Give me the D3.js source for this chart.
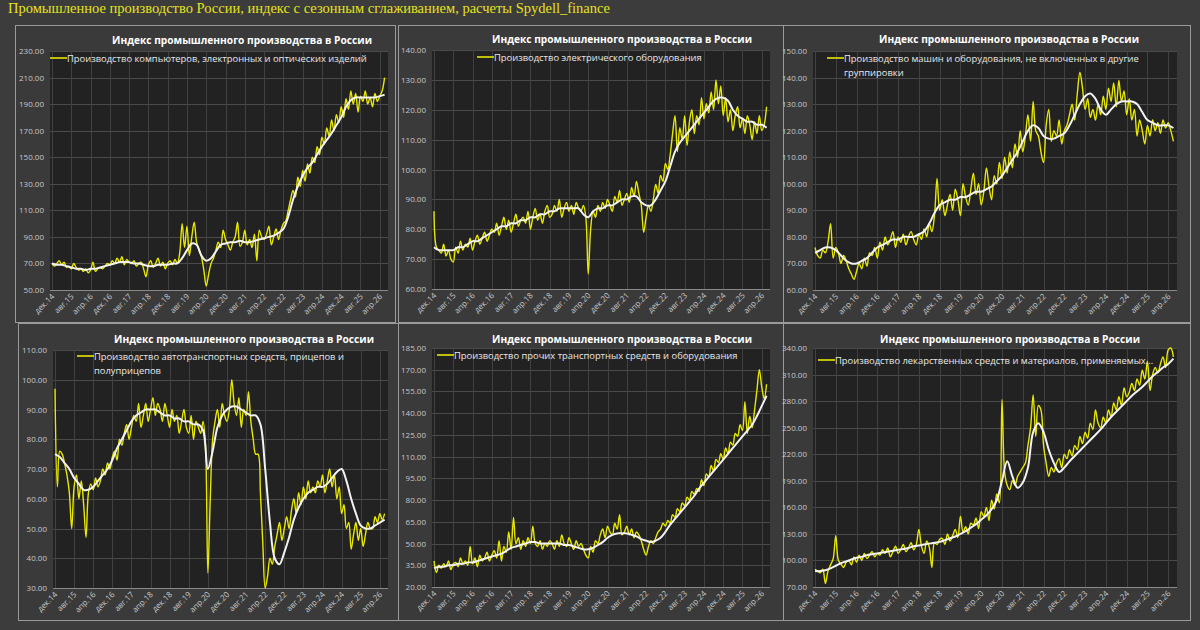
<!DOCTYPE html>
<html>
<head>
<meta charset="utf-8">
<script src="https://cdn.jsdelivr.net/npm/d3@7/dist/d3.min.js"></script>
<style>
  body { margin: 0; background: #3c3c3c; }
  text { font-family: "Open Sans", "DejaVu Sans", sans-serif; }
</style>
</head>
<body>
<svg width="1200" height="630"></svg>
<script>
'use strict';

// month index 0 = дек.14, one label every 8 months
const xLabels = ["дек.14", "авг.15", "апр.16", "дек.16", "авг.17", "апр.18", "дек.18", "авг.19", "апр.20",
    "дек.20", "авг.21", "апр.22", "дек.22", "авг.23", "апр.24", "дек.24", "авг.25", "апр.26"];

// Computers, electronics & optics (monthly)
const compYellow = [70,
    68, 70, 72, 69, 71, 67, 68, 66, 70, 67, 65, 66,
    64, 66, 63, 65, 71, 64, 66, 67, 66, 68, 70, 69,
    72, 70, 74, 71, 75, 69, 73, 71, 70, 72, 68, 70,
    71, 66, 60, 69, 72, 67, 70, 74, 68, 71, 66, 70,
    72, 69, 73, 70, 78, 100, 82, 98, 76, 90, 101, 86,
    80, 75, 65, 53, 62, 70, 74, 80, 86, 82, 95, 88,
    84, 80, 86, 90, 101, 83, 86, 95, 84, 88, 82, 92,
    72, 95, 90, 88, 92, 98, 84, 90, 96, 88, 95, 100,
    102, 110, 118, 125, 120, 135, 128, 140, 132, 145, 138, 150,
    146, 158, 152, 165, 160, 172, 166, 178, 170, 182, 176, 188,
    180, 194, 186, 200, 190, 198, 184, 196, 192, 200, 190, 195,
    188, 198, 192, 196, 200, 210];
// smoothed, every second month
const compWhite = [70, 69, 69, 68, 67, 66, 66, 65, 66, 66, 67, 68,
    69, 70, 71, 71, 71, 70, 70, 69, 68, 68, 69, 69,
    69, 70, 70, 74, 80, 85, 84, 76, 72, 74, 79, 84,
    85, 86, 86, 87, 86, 86, 87, 88, 89, 90, 91, 93,
    96, 105, 118, 128, 136, 142, 146, 152, 158, 163, 168, 174,
    180, 188, 193, 195, 195, 195, 195, 195, 196, 197];
const compTicks = [50, 70, 90, 110, 130, 150, 170, 190, 210, 230];

// Electrical equipment
const elecYellow = [86,
    74, 73, 72, 75, 71, 73, 70, 69, 74, 72, 76, 73,
    75, 74, 77, 73, 76, 78, 75, 77, 79, 76, 78, 80,
    79, 82, 78, 81, 84, 80, 83, 79, 82, 85, 81, 83,
    84, 82, 86, 80, 84, 87, 83, 85, 82, 86, 88, 84,
    85, 88, 86, 90, 84, 87, 89, 86, 88, 85, 89, 87,
    86, 88, 84, 65, 80, 86, 84, 88, 86, 89, 87, 90,
    88, 86, 91, 89, 93, 88, 90, 92, 89, 94, 91, 96,
    92, 88, 79, 84, 88, 86, 90, 95, 92, 98, 96, 102,
    100, 105, 112, 118, 106, 114, 110, 118, 108, 116, 120, 112,
    118, 115, 124, 117, 122, 119, 126, 120, 130, 122, 128, 118,
    124, 116, 120, 113, 118, 121, 114, 117, 112, 118, 115, 110,
    116, 112, 118, 113, 115, 121];
const elecWhite = [74, 73, 73, 73, 73, 74, 74, 75, 76, 76, 77, 78,
    79, 80, 81, 81, 82, 82, 83, 83, 84, 84, 85, 85,
    86, 86, 87, 87, 87, 87, 87, 85, 84, 86, 87, 87,
    88, 88, 89, 90, 90, 91, 91, 89, 88, 88, 90, 93,
    96, 101, 106, 109, 111, 113, 115, 117, 119, 121, 123, 124,
    124, 123, 120, 118, 117, 116, 116, 115, 115, 114];
const elecTicks = [60, 70, 80, 90, 100, 110, 120, 130, 140];

// Machinery & equipment n.e.c.
const machYellow = [76,
    73, 72, 75, 74, 78, 85, 72, 76, 74, 70, 73, 71,
    68, 66, 64, 67, 70, 68, 72, 69, 74, 73, 76, 72,
    78, 75, 80, 77, 79, 82, 76, 80, 78, 81, 77, 80,
    82, 79, 77, 81, 79, 83, 80, 85, 82, 88, 102, 90,
    94, 88, 92, 96, 90, 98, 94, 88, 100, 95, 92, 98,
    104, 96, 100, 92, 97, 106, 99, 94, 103, 100, 108, 102,
    110, 104, 112, 106, 115, 110, 120, 112, 118, 126, 116, 131,
    120, 118, 112, 108, 122, 128, 116, 120, 118, 124, 115, 120,
    122, 126, 130, 124, 134, 142, 136, 128, 132, 125, 128, 124,
    130, 126, 133, 128, 136, 131, 138, 129, 139, 131, 135, 126,
    132, 124, 128, 118, 124, 120, 115, 122, 118, 124, 120, 123,
    119, 124, 121, 123, 120, 116];
const machWhite = [74, 75, 76, 76, 75, 73, 71, 70, 70, 71, 72, 74,
    76, 77, 78, 79, 79, 80, 80, 80, 81, 82, 85, 89,
    92, 93, 94, 94, 95, 95, 96, 97, 97, 98, 99, 101,
    103, 106, 109, 112, 116, 120, 122, 121, 118, 117, 117, 118,
    119, 122, 126, 130, 133, 134, 132, 128, 126, 128, 130, 131,
    131, 131, 130, 127, 124, 123, 122, 122, 122, 121];
const machTicks = [60, 70, 80, 90, 100, 110, 120, 130, 140, 150];

// Motor vehicles, trailers & semi-trailers
const autoYellow = [97,
    64, 76, 75, 72, 68, 62, 50, 64, 68, 60, 66, 58,
    47, 62, 65, 63, 67, 64, 66, 70, 68, 72, 70, 74,
    76, 73, 80, 78, 82, 85, 80, 84, 88, 86, 92, 84,
    88, 92, 86, 90, 94, 88, 92, 90, 86, 92, 88, 84,
    90, 86, 88, 82, 86, 90, 84, 82, 88, 80, 86, 84,
    82, 86, 78, 35, 60, 80, 86, 90, 84, 92, 88, 86,
    90, 100, 92, 88, 94, 84, 90, 88, 96, 86, 80, 75,
    75, 62, 45, 30, 34, 40, 38, 44, 48, 52, 46, 50,
    54, 50, 56, 60, 55, 62, 58, 64, 60, 66, 62, 64,
    62, 66, 64, 68, 62, 66, 70, 64, 68, 60, 64, 55,
    58, 50, 52, 43, 48, 52, 46, 50, 44, 48, 52, 50,
    50, 54, 52, 55, 53, 55];
const autoWhite = [75, 74, 72, 70, 67, 65, 63, 63, 64, 66, 68, 70,
    73, 77, 80, 83, 86, 88, 89, 90, 90, 90, 89, 88,
    88, 87, 87, 86, 86, 85, 85, 83, 70, 76, 84, 88,
    90, 91, 91, 90, 89, 88, 88, 85, 70, 52, 40, 38,
    42, 47, 53, 57, 60, 62, 63, 64, 64, 65, 67, 69,
    70, 66, 60, 55, 51, 50, 50, 51, 52, 53];
const autoTicks = [30, 40, 50, 60, 70, 80, 90, 100, 110];

// Other transport equipment
const transYellow = [38,
    30, 35, 33, 36, 34, 38, 32, 36, 37, 34, 40, 36,
    38, 35, 48, 36, 40, 34, 42, 38, 40, 44, 38, 42,
    45, 40, 52, 38, 48, 44, 58, 46, 68, 50, 54, 46,
    52, 48, 54, 50, 62, 50, 48, 52, 46, 50, 48, 52,
    50, 46, 52, 48, 56, 50, 48, 54, 50, 46, 52, 48,
    50, 46, 42, 40, 48, 44, 52, 50, 56, 60, 54, 62,
    58, 56, 64, 60, 70, 56, 58, 62, 56, 60, 54, 58,
    56, 52, 46, 42, 48, 52, 50, 54, 58, 60, 64, 62,
    66, 64, 70, 68, 74, 72, 78, 76, 82, 80, 86, 84,
    88, 86, 94, 90, 98, 96, 104, 100, 108, 106, 112, 108,
    116, 112, 120, 118, 126, 124, 132, 128, 148, 126, 138, 130,
    142, 156, 170, 158, 150, 160];
const transWhite = [33, 34, 34, 35, 35, 36, 36, 37, 37, 38, 39, 40,
    41, 42, 43, 45, 47, 48, 49, 50, 51, 51, 50, 50,
    50, 50, 50, 49, 49, 48, 47, 46, 46, 47, 49, 51,
    54, 56, 57, 57, 57, 56, 55, 53, 52, 51, 52, 54,
    58, 63, 67, 71, 75, 79, 83, 88, 92, 96, 100, 104,
    108, 112, 116, 120, 124, 128, 132, 138, 145, 152];
const transTicks = [20, 35, 50, 65, 80, 95, 110, 125, 140, 155, 170, 185];

// Pharmaceuticals
const pharmaYellow = [90,
    88, 86, 90, 74, 88, 95, 102, 128, 100, 96, 92, 98,
    100, 95, 104, 98, 106, 100, 108, 102, 106, 110, 104, 108,
    106, 112, 108, 114, 104, 110, 116, 108, 112, 118, 110, 114,
    120, 112, 118, 135, 116, 108, 122, 115, 92, 120, 118, 124,
    125, 118, 130, 122, 128, 135, 126, 150, 132, 138, 130, 142,
    140, 148, 136, 155, 150, 160, 145, 168, 158, 175, 165, 282,
    200, 185, 180, 190, 185, 195, 200, 205, 210, 230, 250, 287,
    240, 275, 270, 230, 210, 195, 205, 200, 210, 215, 205, 220,
    215, 225, 218, 230, 225, 240, 232, 245, 238, 255, 248, 270,
    255, 250, 262, 255, 270, 262, 278, 270, 285, 275, 295, 285,
    290, 300, 292, 305, 298, 315, 305, 325, 292, 310, 318, 312,
    322, 330, 318, 338, 340, 330];
const pharmaWhite = [88, 88, 89, 91, 94, 97, 99, 101, 103, 104, 106, 107,
    108, 109, 110, 111, 112, 113, 114, 116, 117, 118, 119, 120,
    121, 123, 125, 127, 130, 133, 137, 141, 146, 151, 158, 168,
    190, 212, 195, 182, 188, 205, 245, 255, 245, 225, 210, 200,
    205, 212, 218, 224, 230, 236, 242, 248, 255, 262, 268, 274,
    280, 286, 291, 296, 302, 308, 313, 318, 322, 328];
const pharmaTicks = [70, 100, 130, 160, 190, 220, 250, 280, 310, 340];

const chartTitle = "Индекс промышленного производства в России";

const panels = [
    { frame: [15, 25, 380, 297], plot: [50, 51, 338, 239], yellow: compYellow, white: compWhite, ticks: compTicks,
      legend: ["Производство компьютеров, электронных и оптических изделий"], lx: 50, ly: 58, titleX: 242, titleY: 44 },
    { frame: [398, 25, 385, 297], plot: [432, 50, 338, 239], yellow: elecYellow, white: elecWhite, ticks: elecTicks,
      legend: ["Производство электрического оборудования"], lx: 477, ly: 57, titleX: 622, titleY: 43 },
    { frame: [783, 25, 407, 297], plot: [813, 51, 364, 239], yellow: machYellow, white: machWhite, ticks: machTicks,
      legend: ["Производство машин и оборудования, не включенных в другие", "группировки"], lx: 827, ly: 58, titleX: 1009, titleY: 43 },
    { frame: [18, 323, 380, 297], plot: [53, 350, 335, 238], yellow: autoYellow, white: autoWhite, ticks: autoTicks,
      legend: ["Производство автотранспортных средств, прицепов и", "полуприцепов"], lx: 77, ly: 356, titleX: 244, titleY: 343 },
    { frame: [398, 323, 385, 297], plot: [432, 348, 338, 239], yellow: transYellow, white: transWhite, ticks: transTicks,
      legend: ["Производство прочих транспортных средств и оборудования"], lx: 437, ly: 355, titleX: 622, titleY: 343 },
    { frame: [783, 323, 407, 297], plot: [813, 348, 364, 239], yellow: pharmaYellow, white: pharmaWhite, ticks: pharmaTicks,
      legend: ["Производство лекарственных средств и материалов, применяемых..."], lx: 818, ly: 360, titleX: 1010, titleY: 343 }
];

const svg = d3.select("svg");

svg.append("rect").attr("width", 1200).attr("height", 630).attr("fill", "#3c3c3c");

svg.append("text")
    .attr("x", 8).attr("y", 13)
    .attr("fill", "#e6e21e")
    .style("font-family", "'Liberation Serif', 'DejaVu Serif', serif")
    .style("font-size", "14.5px")
    .text("Промышленное производство России, индекс с сезонным сглаживанием, расчеты Spydell_finance");

panels.forEach(p => {
    const [fx, fy, fw, fh] = p.frame;
    const [px, py, pw, ph] = p.plot;

    svg.append("rect")
        .attr("x", fx + 0.5).attr("y", fy + 0.5)
        .attr("width", fw).attr("height", fh)
        .attr("fill", "#3a3a3a")
        .attr("stroke", "#9a9a9a").attr("stroke-width", 1);

    svg.append("rect")
        .attr("x", px).attr("y", py)
        .attr("width", pw).attr("height", ph)
        .attr("fill", "#222222");

    const x = d3.scaleLinear().domain([0, 139]).range([px + 2, px + pw - 1]);
    const y = d3.scaleLinear().domain(d3.extent(p.ticks)).range([py + ph, py]);

    const g = svg.append("g");

    // grid
    g.selectAll(".hgrid").data(p.ticks).enter().append("line")
        .attr("x1", px).attr("x2", px + pw)
        .attr("y1", d => Math.round(y(d)) + 0.5).attr("y2", d => Math.round(y(d)) + 0.5)
        .attr("stroke", d => d === p.ticks[0] ? "#8a8a8a" : "#4a4a4a")
        .attr("stroke-width", 1);

    g.selectAll(".vgrid").data(xLabels).enter().append("line")
        .attr("x1", (d, i) => Math.round(x(i * 8)) + 0.5).attr("x2", (d, i) => Math.round(x(i * 8)) + 0.5)
        .attr("y1", py).attr("y2", py + ph)
        .attr("stroke", "#414141").attr("stroke-width", 1);

    // y labels
    g.selectAll(".ylab").data(p.ticks).enter().append("text")
        .attr("x", px - 6).attr("y", d => y(d) + 3)
        .attr("text-anchor", "end")
        .attr("fill", "#c8c8c8")
        .style("font-size", "8px")
        .text(d => d.toFixed(2));

    // x labels
    g.selectAll(".xlab").data(xLabels).enter().append("text")
        .attr("transform", (d, i) => `translate(${x(i * 8) + 3},${py + ph + 7}) rotate(-45)`)
        .attr("text-anchor", "end")
        .attr("fill", "#c8c8c8")
        .style("font-size", "8px")
        .text(d => d);

    const line = d3.line()
        .curve(d3.curveCatmullRom.alpha(0.5))
        .x(d => x(d.i))
        .y(d => y(d.v));

    g.append("path")
        .datum(p.yellow.map((v, i) => ({ i: i, v: v })))
        .attr("d", line)
        .attr("fill", "none")
        .attr("stroke", "#e8e800")
        .attr("stroke-width", 1.4);

    g.append("path")
        .datum(p.white.map((v, i) => ({ i: i * 2, v: v })))
        .attr("d", line)
        .attr("fill", "none")
        .attr("stroke", "#f2f2f2")
        .attr("stroke-width", 2);

    // title
    svg.append("text")
        .attr("x", p.titleX).attr("y", p.titleY)
        .attr("text-anchor", "middle")
        .attr("fill", "#ffffff")
        .style("font-size", "11px")
        .style("font-weight", "bold")
        .attr("textLength", 260).attr("lengthAdjust", "spacingAndGlyphs")
        .text(chartTitle);

    // legend
    svg.append("line")
        .attr("x1", p.lx).attr("x2", p.lx + 17)
        .attr("y1", p.ly).attr("y2", p.ly)
        .attr("stroke", "#e8e800").attr("stroke-width", 1.6);

    p.legend.forEach((t, k) => {
        svg.append("text")
            .attr("x", p.lx + 17).attr("y", p.ly + 3.5 + k * 14)
            .attr("fill", "#e8e8e8")
            .style("font-size", "9.4px")
            .text(t);
    });
});
</script>
</body>
</html>
